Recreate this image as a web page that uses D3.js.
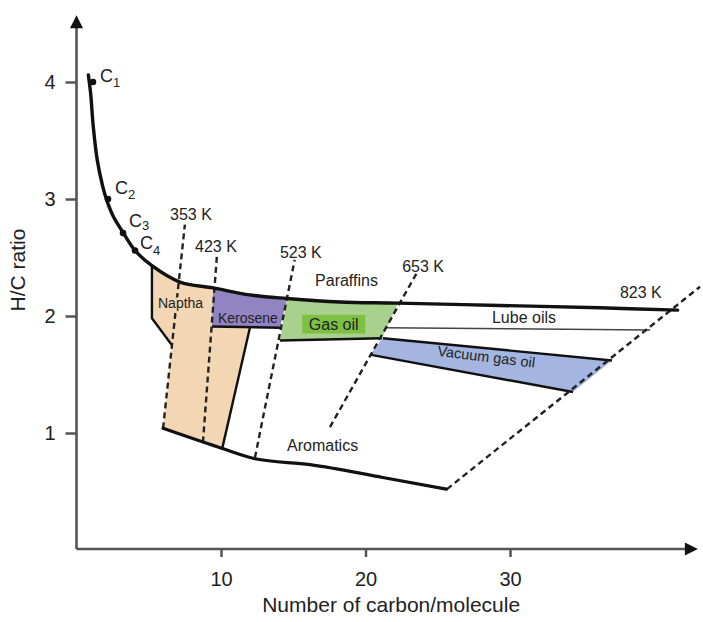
<!DOCTYPE html>
<html>
<head>
<meta charset="utf-8">
<script src="https://cdn.jsdelivr.net/npm/d3@7"></script>
<style>
  body { margin: 0; background: #fff; }
  svg { display: block; }
  text { font-family: "Liberation Sans", Arial, Helvetica, sans-serif; fill: #222; }
</style>
</head>
<body>
<svg id="chart" width="703" height="622"></svg>
<script>
// ---- data (carbon number, H/C ratio) ----
const xTicks = [10, 20, 30];
const yTicks = [1, 2, 3, 4];

// paraffin (alkane) boundary, from methane downwards
const paraffinCurve = [
  [0.82, 4.06], [0.98, 3.90], [1.16, 3.62], [1.44, 3.33], [1.81, 3.11],
  [2.09, 2.99], [2.55, 2.85], [3.24, 2.71], [4.05, 2.56], [5.22, 2.43],
  [7.16, 2.29], [9.45, 2.24], [12.0, 2.18], [14.57, 2.15], [18.23, 2.12],
  [22.25, 2.11], [29.3, 2.09], [36.2, 2.07], [41.6, 2.05]
];
// aromatic boundary
const aromaticCurve = [
  [5.99, 1.04], [9.79, 0.88], [12.35, 0.78], [16.16, 0.73], [21.2, 0.62], [25.6, 0.52]
];
// light alkanes C1..C4
const alkaneNames = ["1", "2", "3", "4"];
const alkanePoints = [[1.14, 4.0], [2.18, 3.0], [3.22, 2.71], [4.05, 2.56]];

// boiling-point isotherms
const tempNames = ["353 K", "423 K", "523 K", "653 K", "823 K"];
const tempTop = [[7.5, 2.78], [9.72, 2.52], [15.1, 2.48], [23.56, 2.37], [43.15, 2.25]];
const tempBottom = [[5.99, 1.04], [8.75, 0.92], [12.35, 0.79], [17.54, 1.05], [25.64, 0.52]];

// petroleum fractions
const fractionNames = ["Naptha", "Kerosene", "Gas oil", "Vacuum gas oil"];
const fractionColors = ["#f3d6b3", "#9283c3", "#a9d18e", "#a3b5e0"];
const naptha = [[5.22, 2.43], [7.16, 2.29], [9.45, 2.24], [9.38, 1.91], [12.0, 1.90],
                [10.07, 0.86], [5.99, 1.04], [6.61, 1.75], [5.22, 1.98]];
const kerosene = [[9.45, 2.24], [12.0, 2.18], [14.57, 2.15], [14.08, 1.90], [9.38, 1.91]];
const gasOil = [[14.57, 2.15], [18.23, 2.12], [22.25, 2.11], [21.14, 1.81], [14.08, 1.79]];
const vacuumGasOil = [[21.2, 1.81], [37.06, 1.62], [34.36, 1.35], [20.3, 1.67]];
const gasOilBadge = [[15.62, 2.01], [19.98, 1.85]];

// solid fraction edges
const napthaLeftEdge = [[5.22, 2.43], [5.22, 1.98], [6.61, 1.75]];
const napthaRightEdge = [[12.0, 1.90], [10.07, 0.86]];
const keroseneBottom = [[9.38, 1.91], [14.08, 1.90]];
const gasOilBottom = [[14.08, 1.79], [21.14, 1.81]];
const lubeOilBottom = [[21.35, 1.90], [39.7, 1.88]];
const vacuumTop = [[21.2, 1.81], [37.06, 1.62]];
const vacuumBottom = [[20.3, 1.67], [34.36, 1.35]];

// region names
const regionNames = ["Paraffins", "Aromatics", "Naptha", "Kerosene", "Lube oils"];
const regionAnchors = [[16.51, 2.26], [14.57, 0.85], [5.64, 2.07], [9.79, 1.94], [28.75, 1.94]];

// ---- drawing ----
const svg = d3.select("#chart");
const x = d3.scaleLinear().domain([0, 40]).range([76.5, 654.5]);
const y = d3.scaleLinear().domain([0, 4]).range([550, 82]);
const xEnd = 43.0, yEnd = 4.57;

const line = d3.line().x(d => x(d[0])).y(d => y(d[1]));
const smooth = d3.line().x(d => x(d[0])).y(d => y(d[1])).curve(d3.curveCatmullRom.alpha(0.5));
const mono = d3.line().x(d => x(d[0])).y(d => y(d[1])).curve(d3.curveMonotoneX);

// fraction fills
const fills = svg.append("g");
[naptha, kerosene, gasOil, vacuumGasOil].forEach((poly, i) => {
  fills.append("path")
    .attr("d", line(poly) + "Z")
    .attr("fill", fractionColors[i]);
});
fills.append("rect")
  .attr("x", x(gasOilBadge[0][0])).attr("y", y(gasOilBadge[0][1]))
  .attr("width", x(gasOilBadge[1][0]) - x(gasOilBadge[0][0]))
  .attr("height", y(gasOilBadge[1][1]) - y(gasOilBadge[0][1]))
  .attr("fill", "#7cc142");

// solid edges
const edges = svg.append("g").attr("fill", "none").attr("stroke", "#111").attr("stroke-linejoin", "round");
[napthaLeftEdge, napthaRightEdge, keroseneBottom, gasOilBottom, vacuumTop, vacuumBottom].forEach(e => {
  edges.append("path").attr("d", line(e)).attr("stroke-width", 2.4);
});
edges.append("path").attr("d", line(lubeOilBottom)).attr("stroke", "#444").attr("stroke-width", 1.6);

// isotherms
const iso = svg.append("g").attr("fill", "none").attr("stroke", "#222")
  .attr("stroke-width", 2.4).attr("stroke-dasharray", "6,4");
tempNames.forEach((n, i) => {
  iso.append("path").attr("d", line([tempBottom[i], tempTop[i]]));
});

// boundary curves
svg.append("path").attr("d", smooth(paraffinCurve))
  .attr("fill", "none").attr("stroke", "#111").attr("stroke-width", 3.4).attr("stroke-linecap", "round");
svg.append("path").attr("d", mono(aromaticCurve))
  .attr("fill", "none").attr("stroke", "#111").attr("stroke-width", 3.2).attr("stroke-linecap", "round");

// alkane points
svg.append("g").selectAll("circle").data(alkanePoints).join("circle")
  .attr("cx", d => x(d[0])).attr("cy", d => y(d[1])).attr("r", 3.3).attr("fill", "#111");

// axes
const axisColor = "#555";
const yAxis = svg.append("g").attr("transform", `translate(${x(0)},0)`)
  .call(d3.axisLeft(y).tickValues(yTicks).tickSize(11).tickPadding(10).tickFormat(d3.format("d")));
const xAxis = svg.append("g").attr("transform", `translate(0,${y(0) - 1})`)
  .call(d3.axisBottom(x).tickValues(xTicks).tickSize(8).tickPadding(15).tickFormat(d3.format("d")));
[xAxis, yAxis].forEach(a => {
  a.select(".domain").remove();
  a.selectAll(".tick line").attr("stroke", axisColor).attr("stroke-width", 2.5);
  a.selectAll(".tick text").attr("font-size", 20).attr("fill", "#222")
    .style("font-family", '"Liberation Sans", Arial, sans-serif');
});
svg.append("line").attr("x1", x(0)).attr("y1", y(0) - 1).attr("x2", x(xEnd) - 10).attr("y2", y(0) - 1)
  .attr("stroke", axisColor).attr("stroke-width", 2.6);
svg.append("line").attr("x1", x(0)).attr("y1", y(0) - 1).attr("x2", x(0)).attr("y2", y(yEnd) + 10)
  .attr("stroke", axisColor).attr("stroke-width", 2.6);
const ax = x(xEnd), ay = y(0) - 1;
svg.append("path").attr("d", `M${ax},${ay} L${ax - 13},${ay - 6.5} L${ax - 13},${ay + 6.5} Z`).attr("fill", "#111");
const tx = x(0), ty = y(yEnd);
svg.append("path").attr("d", `M${tx},${ty} L${tx - 6.5},${ty + 13} L${tx + 6.5},${ty + 13} Z`).attr("fill", "#111");

// axis titles
svg.append("text").attr("x", (x(0) + x(xEnd)) / 2 + 4).attr("y", 612)
  .attr("text-anchor", "middle").attr("font-size", 21).text("Number of carbon/molecule");
svg.append("text").attr("transform", `translate(25,270) rotate(-90)`)
  .attr("text-anchor", "middle").attr("font-size", 21).text("H/C ratio");

// alkane labels C1..C4 with subscripts
const cLabelOffset = [[7, 0], [7, -5], [6, -6], [5, -1]];
const cSubShift = [5, 5, 3, 6];
alkaneNames.forEach((n, i) => {
  const t = svg.append("text")
    .attr("x", x(alkanePoints[i][0]) + cLabelOffset[i][0])
    .attr("y", y(alkanePoints[i][1]) + cLabelOffset[i][1])
    .attr("font-size", 18);
  t.append("tspan").text("C");
  t.append("tspan").attr("font-size", 13).attr("dy", cSubShift[i]).text(n);
});

// isotherm labels
const tempLabelAt = [[6.47, 2.82], [8.20, 2.55], [14.08, 2.50], [22.54, 2.38], [37.61, 2.15]];
tempNames.forEach((n, i) => {
  svg.append("text").attr("x", x(tempLabelAt[i][0])).attr("y", y(tempLabelAt[i][1]))
    .attr("font-size", 16).text(n);
});

// region labels (the naptha label masks the isotherm that crosses it)
const regionSizes = [16, 16, 14, 14, 16];
regionNames.forEach((n, i) => {
  const t = svg.append("text").attr("x", x(regionAnchors[i][0])).attr("y", y(regionAnchors[i][1]))
    .attr("font-size", regionSizes[i]).text(n);
  if (n === "Naptha") {
    t.attr("stroke", fractionColors[0]).attr("stroke-width", 5)
      .attr("paint-order", "stroke").attr("stroke-linejoin", "round");
  }
});
svg.append("text")
  .attr("x", (x(gasOilBadge[0][0]) + x(gasOilBadge[1][0])) / 2)
  .attr("y", y(gasOilBadge[1][1]) - 4)
  .attr("text-anchor", "middle").attr("font-size", 16).text(fractionNames[2]);
const vx = x(24.95), vy = y(1.66);
svg.append("text").attr("transform", `translate(${vx},${vy}) rotate(7)`)
  .attr("font-size", 14.5).text(fractionNames[3]);
</script>
</body>
</html>
